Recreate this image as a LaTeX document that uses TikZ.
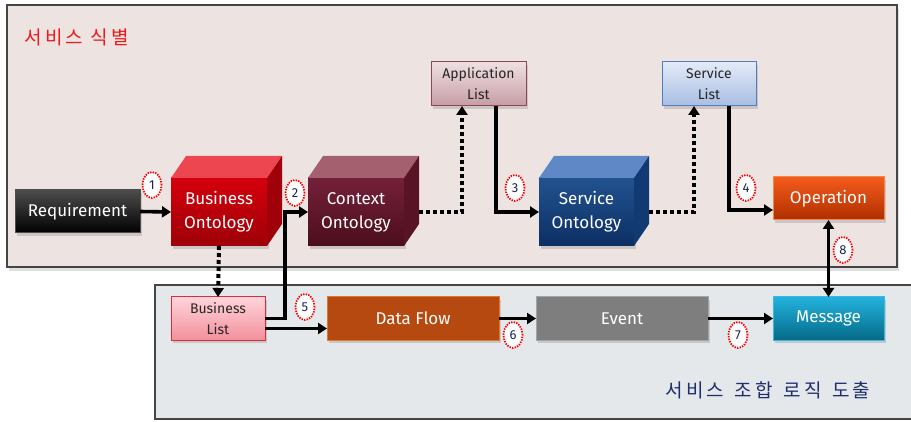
\documentclass[tikz,border=0pt]{standalone}
\usepackage{fontspec}
\setmainfont{Fira Sans}
\newfontfamily\krfont[LetterSpace=17]{Noto Sans CJK KR}
\usetikzlibrary{arrows.meta,shapes.geometric,shadows,calc}

\definecolor{topbg}{HTML}{EDE4E2}
\definecolor{botbg}{HTML}{E4E8EB}
\definecolor{panelline}{HTML}{454545}
\definecolor{titlered}{HTML}{F01818}
\definecolor{titlenavy}{HTML}{1F2D6A}
\definecolor{numcol}{HTML}{1A2450}
% block colours
\definecolor{boF1}{HTML}{D4000C}\definecolor{boF2}{HTML}{9E0008}
\definecolor{boT}{HTML}{EE4650}\definecolor{boS}{HTML}{A0000A}
\definecolor{coF1}{HTML}{74203A}\definecolor{coF2}{HTML}{4C0E1C}
\definecolor{coT}{HTML}{A4606E}\definecolor{coS}{HTML}{581424}
\definecolor{soF1}{HTML}{22528F}\definecolor{soF2}{HTML}{0C2F64}
\definecolor{soT}{HTML}{5E89C6}\definecolor{soS}{HTML}{123A72}
\definecolor{alF1}{HTML}{EEE0E2}\definecolor{alF2}{HTML}{C69CA4}\definecolor{alB}{HTML}{8C4856}
\definecolor{slF1}{HTML}{E2EAF7}\definecolor{slF2}{HTML}{A8BEE4}\definecolor{slB}{HTML}{4F7FBF}
\definecolor{opF1}{HTML}{F45C1C}\definecolor{opF2}{HTML}{B02E00}\definecolor{opB}{HTML}{F08848}
\definecolor{blF1}{HTML}{FFD4DA}\definecolor{blF2}{HTML}{F2909C}\definecolor{blB}{HTML}{E02A3A}
\definecolor{dfF}{HTML}{B5490F}\definecolor{dfB}{HTML}{E0782C}
\definecolor{evF}{HTML}{7E7E7E}\definecolor{evB}{HTML}{A4A4A4}
\definecolor{msF1}{HTML}{22B2DE}\definecolor{msF2}{HTML}{056A88}\definecolor{msB}{HTML}{3AB8E2}

% three faces of each ontology block: top and right side are drawn after the front node
\newcommand\cubefaces[3]{%
  \fill[#2] (#1.north west) -- ++(15,-22) -- ($(#1.north east)+(15,-22)$) -- (#1.north east) -- cycle;
  \fill[#3] (#1.north east) -- ++(15,-22) -- ($(#1.south east)+(15,-22)$) -- (#1.south east) -- cycle;
}

\begin{document}
\begin{tikzpicture}[x=1pt,y=-1pt,
  panel/.style={draw=panelline, line width=1.4pt},
  box/.style={rectangle, inner sep=0pt, outer sep=0pt, line width=1pt, align=center,
    drop shadow={opacity=0.3, shadow xshift=2pt, shadow yshift=-3pt}},
  dark/.style={box, text=white, font=\fontsize{17}{24}\selectfont},
  listbox/.style={box, text=black!85, font=\fontsize{14}{21}\selectfont},
  arr/.style={line width=3.6pt, -{Triangle[length=9pt,width=11pt]}},
  dotarr/.style={line width=4pt, dash pattern=on 4pt off 3pt, -{Triangle[length=9pt,width=11pt]}},
  dblarr/.style={line width=3.6pt, {Triangle[length=9pt,width=11pt]}-{Triangle[length=9pt,width=11pt]}},
  badge/.style={ellipse, draw=red, fill=white, line width=1.8pt, dash pattern=on 1.4pt off 1.2pt,
    minimum width=19pt, minimum height=26pt, inner sep=0pt, text=numcol,
    font=\fontsize{13}{13}\selectfont},
]
\useasboundingbox (0,0) rectangle (911,422);

% the two stage panels
\draw[panel, fill=topbg, drop shadow={opacity=0.25, shadow xshift=2pt, shadow yshift=-4pt}] (7,5) rectangle (897,267);
\draw[panel, fill=botbg] (155,285) rectangle (916,419);

\node[anchor=west, text=titlered, font=\krfont\fontsize{19}{21}\selectfont] (title1) at (21,37) {서비스 식별};
\node[anchor=east, text=titlenavy, font=\krfont\fontsize{19}{21}\selectfont] (title2) at (874,390) {서비스\hspace{3pt} 조합\hspace{3pt} 로직\hspace{3pt} 도출};

% identification stage
\node[dark, draw=black!70, top color=black!70, bottom color=black, minimum width=125pt, minimum height=43pt] (req) at (77.5,211.5) {Requirement};

\node[dark, top color=boF1, bottom color=boF2, minimum width=96pt, minimum height=68pt] (bo) at (219,212) {Business\\Ontology};
\cubefaces{bo}{boT}{boS}

\node[dark, top color=coF1, bottom color=coF2, minimum width=96pt, minimum height=68pt] (co) at (356,212) {Context\\Ontology};
\cubefaces{co}{coT}{coS}

\node[listbox, draw=alB, top color=alF1, bottom color=alF2, minimum width=95pt, minimum height=44pt] (al) at (478.5,84) {Application\\List};

\node[dark, top color=soF1, bottom color=soF2, minimum width=95pt, minimum height=68pt] (so) at (586.5,212) {Service\\Ontology};
\cubefaces{so}{soT}{soS}

\node[listbox, draw=slB, top color=slF1, bottom color=slF2, minimum width=94pt, minimum height=44pt] (sl) at (709,84) {Service\\List};

\node[dark, draw=opB, top color=opF1, bottom color=opF2, minimum width=111pt, minimum height=43pt] (op) at (828.5,198.5) {Operation};

% composition stage
\node[listbox, draw=blB, top color=blF1, bottom color=blF2, minimum width=94pt, minimum height=43pt] (bl) at (218,318.5) {Business\\List};

\node[dark, draw=dfB, fill=dfF, minimum width=172pt, minimum height=43pt] (df) at (413,318.5) {Data Flow};

\node[dark, draw=evB, fill=evF, minimum width=172pt, minimum height=43pt] (ev) at (622,318.5) {Event};

\node[dark, draw=msB, top color=msF1, bottom color=msF2, minimum width=111pt, minimum height=43pt] (msg) at (828.5,318.5) {Message};

% connectors
\draw[arr] (req.east) -- (bo.west);
\draw[dotarr] (bo.south) -- (bl.north);
\draw[arr] (bl.east) -- ++(20,0) |- (co.west);
\draw[dotarr] ($(co.east)+(15,0)$) -| ([xshift=-16.5pt]al.south);
\draw[arr] ([xshift=17.5pt]al.south) |- (so.west);
\draw[dotarr] ($(so.east)+(15,0)$) -| ([xshift=-15pt]sl.south);
\draw[arr] ([xshift=20pt]sl.south) |- ([yshift=-11.5pt]op.west);
\draw[arr] ([yshift=-10pt]bl.east) -- ([yshift=-10pt]df.west);
\draw[arr] (df.east) -- (ev.west);
\draw[arr] (ev.east) -- (msg.west);
\draw[dblarr] (op.south) -- (msg.north);

% step numbers
\node[badge] (n1) at (152,185) {1};
\node[badge] (n2) at (295,193) {2};
\node[badge] (n3) at (515,188) {3};
\node[badge] (n4) at (746,188) {4};
\node[badge] (n5) at (305,307) {5};
\node[badge] (n6) at (513,335) {6};
\node[badge] (n7) at (738,335) {7};
\node[badge] (n8) at (843,250) {8};
\end{tikzpicture}
\end{document}
